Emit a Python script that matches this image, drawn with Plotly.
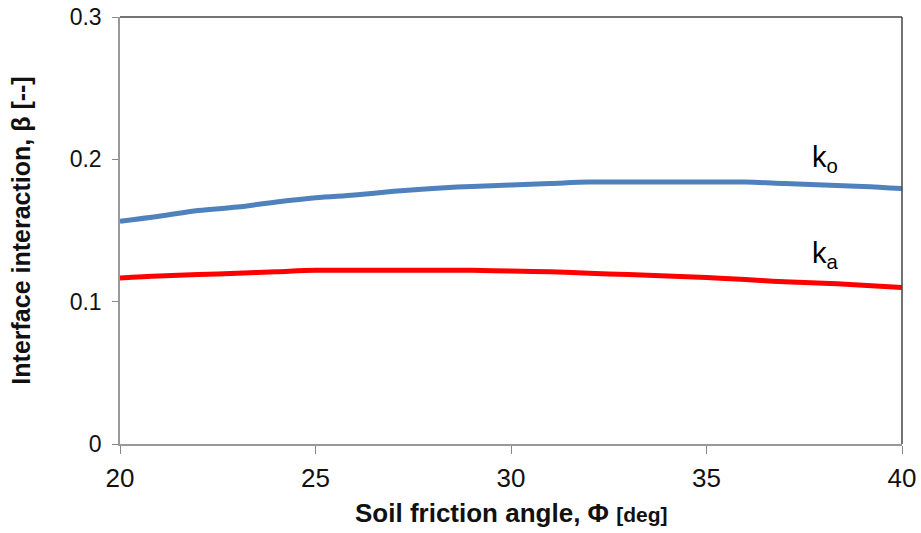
import plotly.graph_objects as go

phi = [20, 21, 22, 23, 24, 25, 26, 27, 28, 29, 30, 31, 32, 33, 34, 35, 36, 37, 38, 39, 40]
beta_ko = [0.1565, 0.160, 0.164, 0.1665, 0.170, 0.173, 0.175, 0.1775, 0.1795, 0.181, 0.182,
           0.183, 0.184, 0.184, 0.184, 0.184, 0.184, 0.183, 0.182, 0.181, 0.1795]
beta_ka = [0.1166, 0.118, 0.119, 0.120, 0.121, 0.122, 0.122, 0.122, 0.122, 0.122, 0.1215,
           0.121, 0.120, 0.119, 0.118, 0.117, 0.1155, 0.114, 0.113, 0.1115, 0.110]
x_ticks = [20, 25, 30, 35, 40]
y_ticks = [0, 0.1, 0.2, 0.3]
y_tick_labels = ["0", "0.1", "0.2", "0.3"]
x_title = "<b>Soil friction angle, Φ <span style='font-size:21px'>[deg]</span></b>"
y_title = "<b>Interface interaction, β [--]</b>"

FONT = "Liberation Sans, Arial, sans-serif"

fig = go.Figure()
fig.add_trace(go.Scatter(x=phi, y=beta_ko, mode="lines", line=dict(color="#4F81BD", width=5, shape="spline"), name="ko"))
fig.add_trace(go.Scatter(x=phi, y=beta_ka, mode="lines", line=dict(color="#FF0000", width=5, shape="spline"), name="ka"))

fig.add_annotation(x=37.65, y=0.200, text="k<sub>o</sub>", showarrow=False, xanchor="left",
                   font=dict(family=FONT, size=29, color="black"))
fig.add_annotation(x=37.65, y=0.133, text="k<sub>a</sub>", showarrow=False, xanchor="left",
                   font=dict(family=FONT, size=29, color="black"))
# x-axis title placed as paper annotation for exact position
fig.add_annotation(xref="paper", yref="paper", x=0.5, y=-0.162, yanchor="middle", xanchor="center",
                   text=x_title, showarrow=False, font=dict(family=FONT, size=26, color="#111"))

fig.update_layout(
    width=921, height=533,
    margin=dict(l=120, r=19, t=17, b=89, autoexpand=False),
    paper_bgcolor="white", plot_bgcolor="white",
    showlegend=False,
    font=dict(family=FONT, color="black"),
)
fig.update_xaxes(range=[20, 40], tickvals=x_ticks, ticks="outside", ticklen=8, tickcolor="#888888",
                 showgrid=False, zeroline=False, showline=True, linecolor="#999999", linewidth=1.5,
                 automargin=False, tickfont=dict(family=FONT, size=26, color="#111"),
                 ticklabelstandoff=2)
fig.update_yaxes(range=[0, 0.3], tickvals=y_ticks, ticktext=y_tick_labels, ticks="outside", ticklen=6,
                 tickcolor="#888888", showgrid=False, zeroline=False, showline=True, linecolor="#999999",
                 linewidth=1.5, automargin=False, tickfont=dict(family=FONT, size=23, color="#111"),
                 ticklabelstandoff=6,
                 title=dict(text=y_title, font=dict(family=FONT, size=25, color="#111"), standoff=32))

# frame top and right
fig.add_shape(type="line", xref="paper", yref="paper", x0=0, x1=1, y0=1, y1=1, line=dict(color="#444", width=1.5))
fig.add_shape(type="line", xref="paper", yref="paper", x0=1, x1=1, y0=0, y1=1, line=dict(color="#444", width=1.5))

fig.write_html("out.html", config={"displayModeBar": False},
               post_script="document.body.style.margin='0';document.body.style.padding='0';")
